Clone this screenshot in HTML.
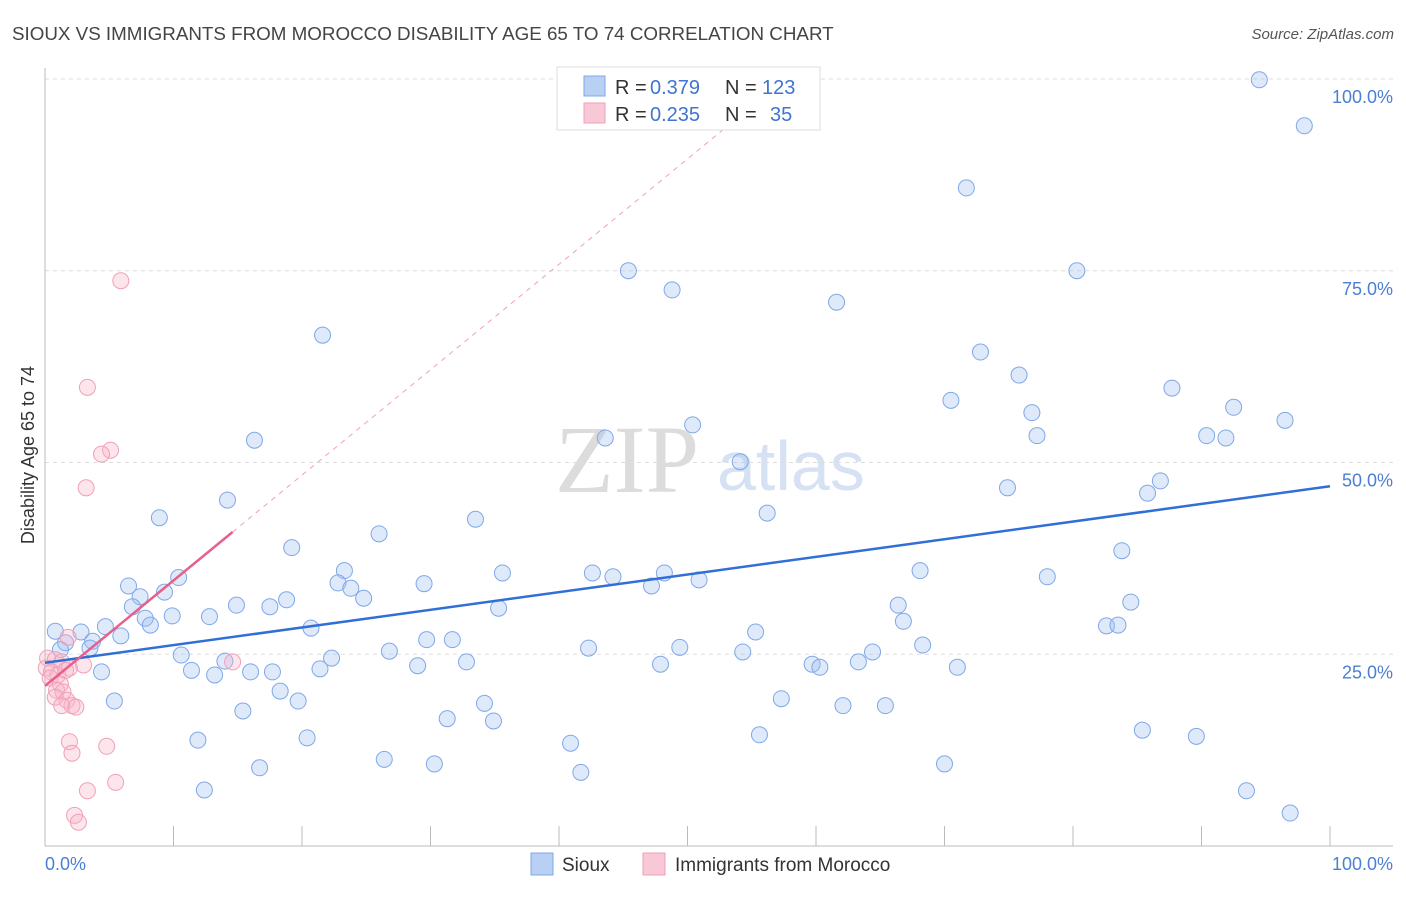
<!DOCTYPE html>
<html><head><meta charset="utf-8"><style>
html,body{margin:0;padding:0;background:#fff;}
body{width:1406px;height:892px;overflow:hidden;font-family:"Liberation Sans",sans-serif;}
</style></head><body>
<svg id="chart" width="1406" height="892" xmlns="http://www.w3.org/2000/svg" font-family="Liberation Sans, sans-serif">
<text x="12" y="40" font-size="18.8" fill="#444">SIOUX VS IMMIGRANTS FROM MOROCCO DISABILITY AGE 65 TO 74 CORRELATION CHART</text>
<text x="1394" y="39" font-size="15" fill="#555" text-anchor="end" font-style="italic">Source: ZipAtlas.com</text>
<g>
<text x="555" y="492" font-size="96" font-family="Liberation Serif, serif" fill="#dcdcdc">ZIP</text>
<text x="717" y="490" font-size="70" fill="#d6e2f4">atlas</text>
</g>
<g id="grid"></g>
<g id="axes"></g>
<g id="marks"></g>
<g id="legend">
<rect x="557" y="67" width="263" height="63" fill="#fff" stroke="#ddd"/>
<rect x="584" y="76" width="21" height="20" fill="#b8d0f4" stroke="#7fa8e8"/>
<g font-size="20">
<text x="615" y="94" fill="#333">R =</text>
<text x="650" y="94" fill="#3f74d0">0.379</text>
<text x="725" y="94" fill="#333">N =</text>
<text x="762" y="94" fill="#3f74d0">123</text>
</g>
<rect x="584" y="103" width="21" height="20" fill="#f9c8d6" stroke="#f0a0b8"/>
<g font-size="20">
<text x="615" y="121" fill="#333">R =</text>
<text x="650" y="121" fill="#3f74d0">0.235</text>
<text x="725" y="121" fill="#333">N =</text>
<text x="770" y="121" fill="#3f74d0">35</text>
</g>
</g>
<text transform="translate(34,455) rotate(-90)" font-size="18" fill="#333" text-anchor="middle">Disability Age 65 to 74</text>
<g>
<rect x="531" y="853" width="22" height="22" fill="#b8d0f4" stroke="#7fa8e8"/>
<text x="562" y="871" font-size="19" fill="#333">Sioux</text>
<rect x="643" y="853" width="22" height="22" fill="#f9c8d6" stroke="#f0a0b8"/>
<text x="675" y="871" font-size="19" fill="#333">Immigrants from Morocco</text>
</g>
</svg>
<script>
const siouxX=[94.5,98.0,71.7,45.4,80.3,48.8,61.6,21.6,72.8,75.8,87.7,70.5,76.8,92.5,96.5,50.4,90.4,91.9,77.2,16.3,43.6,54.1,86.8,85.8,74.9,14.2,8.9,56.2,33.5,26.0,19.2,83.8,10.4,6.5,23.3,35.6,42.6,44.2,48.2,68.1,78.0,50.9,22.8,23.8,29.5,47.2,9.3,7.4,24.8,18.8,14.9,6.8,17.5,35.3,66.4,84.5,9.9,12.8,7.8,8.2,66.8,4.7,2.8,0.8,20.7,82.6,83.5,5.9,3.7,1.6,29.7,31.7,55.3,1.2,3.5,68.3,42.3,49.4,26.8,54.3,64.4,10.6,22.3,14.0,32.8,47.9,63.3,59.7,60.3,71.0,4.4,11.4,13.2,16.0,17.7,21.4,29.0,18.3,19.7,5.4,57.3,34.2,62.1,65.4,15.4,31.3,34.9,85.4,11.9,20.4,55.6,40.9,89.6,26.4,16.7,30.3,41.7,70.0,12.4,93.5,96.9];
const siouxY=[99.9,93.9,85.8,75.0,75.0,72.5,70.9,66.6,64.4,61.4,59.7,58.1,56.5,57.2,55.5,54.9,53.5,53.2,53.5,52.9,53.2,50.1,47.6,46.0,46.7,45.1,42.8,43.4,42.6,40.7,38.9,38.5,35.0,33.9,35.9,35.6,35.6,35.1,35.6,35.9,35.1,34.7,34.3,33.6,34.2,33.9,33.1,32.5,32.3,32.1,31.4,31.2,31.2,31.0,31.4,31.8,30.0,29.9,29.7,28.8,29.3,28.6,27.9,28.0,28.4,28.7,28.8,27.4,26.7,26.5,26.9,26.9,27.9,25.6,25.8,26.2,25.8,25.9,25.4,25.3,25.3,24.9,24.5,24.1,24.0,23.7,24.0,23.7,23.3,23.3,22.7,22.9,22.3,22.7,22.7,23.1,23.5,20.2,18.9,18.9,19.2,18.6,18.3,18.3,17.6,16.6,16.3,15.1,13.8,14.1,14.5,13.4,14.3,11.3,10.2,10.7,9.6,10.7,7.3,7.2,4.3];
const moroccoX=[5.9,3.3,5.1,4.4,3.2,1.8,0.2,0.8,1.3,0.1,1.9,0.5,1.0,1.6,0.4,1.2,3.0,14.6,0.9,1.4,0.8,1.7,2.1,1.3,2.4,4.8,1.9,2.1,5.5,3.3,2.3,2.6];
const moroccoY=[73.7,59.8,51.6,51.1,46.7,27.2,24.5,24.3,24.0,23.2,23.2,22.7,22.3,22.9,21.9,21.1,23.6,24.0,20.3,20.1,19.4,19.0,18.3,18.3,18.1,13.0,13.6,12.1,8.3,7.2,4.0,3.1];
const yTicks=[25,50,75,100];
const xTickVals=[0,10,20,30,40,50,60,70,80,90,100];

const X0=45,X1=1330,Y0=846,Y100=79;
const sx=v=>X0+(X1-X0)*v/100;
const sy=v=>Y0-(Y0-Y100)*v/100;
const NS='http://www.w3.org/2000/svg';
function mk(tag,attrs,parent){const e=document.createElementNS(NS,tag);for(const k in attrs)e.setAttribute(k,attrs[k]);parent.appendChild(e);return e;}
const grid=document.getElementById('grid'),axes=document.getElementById('axes'),marks=document.getElementById('marks');

yTicks.forEach(t=>{
  const l=mk('line',{x1:45,x2:1393,y1:sy(t),y2:sy(t),stroke:'#ddd','stroke-dasharray':'4,4'},grid);
  
  
  const tx=mk('text',{x:1393,y:sy(t)+24,'font-size':18,fill:'#4a7fd4','text-anchor':'end'},axes);
  tx.textContent=t.toFixed(1)+'%';
  
  
});
const ya=mk('line',{x1:45,x2:45,y1:68,y2:846,stroke:'#bbb'},axes);


const xa=mk('line',{x1:45,x2:1393,y1:846,y2:846,stroke:'#bbb'},axes);


xTickVals.forEach(t=>{
  const l=mk('line',{x1:sx(t),x2:sx(t),y1:826,y2:846,stroke:'#bbb'},axes);
  
  
});
const xl0=mk('text',{x:45,y:870,'font-size':18,fill:'#4a7fd4'},axes);xl0.textContent='0.0%';


const xl1=mk('text',{x:1393,y:870,'font-size':18,fill:'#4a7fd4','text-anchor':'end'},axes);xl1.textContent='100.0%';



function fit(xs,ys){const n=xs.length;let mx=0,my=0;for(let i=0;i<n;i++){mx+=xs[i];my+=ys[i];}mx/=n;my/=n;let sxy=0,sxx=0;for(let i=0;i<n;i++){sxy+=(xs[i]-mx)*(ys[i]-my);sxx+=(xs[i]-mx)**2;}const b=sxy/sxx;return {a:my-b*mx,b:b};}

siouxX.forEach((v,i)=>{
  const c=mk('circle',{cx:sx(v),cy:sy(siouxY[i]),r:8,fill:'rgba(160,192,240,0.35)',stroke:'#7fa8e8','stroke-width':1},marks);
  
  
});
moroccoX.forEach((v,i)=>{
  const c=mk('circle',{cx:sx(v),cy:sy(moroccoY[i]),r:8,fill:'rgba(248,180,200,0.35)',stroke:'#f0a0b8','stroke-width':1},marks);
  
  
});
const fs=fit(siouxX,siouxY);
const bl=mk('line',{x1:sx(0),y1:sy(fs.a),x2:sx(100),y2:sy(fs.a+100*fs.b),stroke:'#2f6fd6','stroke-width':2.5},marks);


const fm=fit(moroccoX,moroccoY);
const mxMax=Math.max(...moroccoX);
const xEnd=Math.min(100,(100-fm.a)/fm.b);
const pd=mk('line',{x1:sx(mxMax),y1:sy(fm.a+mxMax*fm.b),x2:sx(xEnd),y2:sy(fm.a+xEnd*fm.b),stroke:'#f0a0b8','stroke-width':1,'stroke-dasharray':'5,5'},marks);


const pl=mk('line',{x1:sx(0),y1:sy(fm.a),x2:sx(mxMax),y2:sy(fm.a+mxMax*fm.b),stroke:'#e8608a','stroke-width':2.5},marks);


document.getElementById('chart').appendChild(document.getElementById('legend'));
</script>
</body></html>
